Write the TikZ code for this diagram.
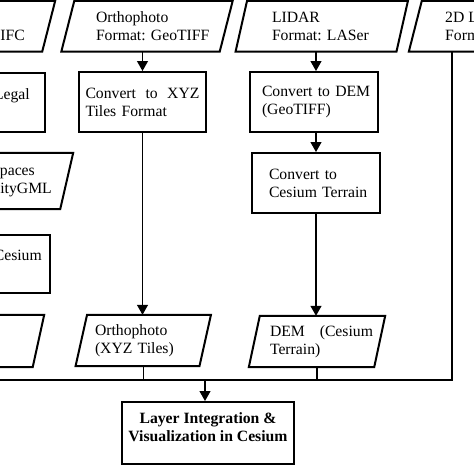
\documentclass[tikz,border=0pt]{standalone}
\usepackage{fontspec}
\setmainfont{Liberation Serif}
\usetikzlibrary{arrows.meta}
\frenchspacing
\begin{document}
\begin{tikzpicture}[x=1pt,y=-1pt,
  font=\fontsize{15.7}{18}\selectfont\frenchspacing,
  box/.style={draw, line width=2pt, rectangle, inner sep=0pt, align=left},
  pbox/.style={rectangle, inner sep=0pt, align=left},
  pline/.style={draw, line width=2pt, line join=miter},
  conn/.style={line width=1.2pt},
  arr/.style={conn, -{Triangle[length=10pt,width=11pt]}},
  frag/.style={inner sep=0pt, anchor=base east}]
\useasboundingbox (0,0) rectangle (474,474);
\clip (0,0) rectangle (474,474);
\fill[white] (0,0) rectangle (474,474);

% rectangles
\node[box, minimum width=127, minimum height=60, text width=114] (cx) at (142.5,102) {\hbox to 114pt{Convert\hfill to\hfill XYZ}\\Tiles Format};
\node[box, minimum width=128, minimum height=60, text width=104] (dem) at (314,102) {\mbox{Convert to DEM}\\(GeoTIFF)};
\node[box, minimum width=128, minimum height=60, text width=94] (ct) at (316,183) {Convert to\\\mbox{Cesium Terrain}};
\node[box, minimum width=172, minimum height=62, align=center, font=\fontsize{15.7}{18}\selectfont\bfseries] (lic) at (208,433) {Layer Integration \&\\Visualization in Cesium\\[-5.2pt]\mbox{}};
\node[box, minimum width=145, minimum height=59] (legal) at (-27.5,102.5) {};
\node[box, minimum width=150, minimum height=58] (ces) at (-25.5,264) {};

% parallelograms (node areas)
\node[pbox, minimum width=158, minimum height=50.5, text width=102] (op) at (147,26.25) {Orthophoto\\\mbox{Format: GeoTIFF}};
\node[pbox, minimum width=160.5, minimum height=50.5, text width=99.5] (li) at (321.75,26.25) {LIDAR\\\mbox{Format: LASer}};
\node[pbox, minimum width=73, minimum height=50.5] (td) at (452,26.25) {};
\node[pbox, minimum width=148.5, minimum height=50.5] (ifc) at (-25.75,26.25) {};
\node[pbox, minimum width=166.5, minimum height=56] (cg) at (-16.75,181) {};
\node[pbox, minimum width=138.25, minimum height=52] (bl) at (-30.875,341) {};
\node[pbox, minimum width=123.5, minimum height=51, text width=96.5] (oxyz) at (143.25,340.5) {Orthophoto\\\mbox{(XYZ Tiles)}};
\node[pbox, minimum width=125, minimum height=51, text width=94] (demc) at (317,341.5) {\hbox to 103pt{DEM\hfill(Cesium}\\Terrain)};

\foreach \n/\s in {ifc/6.5,op/6.5,li/5.75,td/6.5,cg/6.5,bl/5.75,oxyz/5.75,demc/5.5}
  \draw[pline] ([xshift=\s]\n.north west) -- ([xshift=\s]\n.north east) -- ([xshift=-\s]\n.south east) -- ([xshift=-\s]\n.south west) -- cycle;

% visible fragments of clipped texts
\node[frag] (fifc) at (25,40) {IFC};
\node[frag] (flegal) at (30,99) {Legal};
\node[frag] (fcg1) at (35,175) {paces};
\node[frag] (fcg2) at (52,193) {ityGML};
\node[frag] (fces) at (42,260) {Cesium};
\node[frag, anchor=base west] (ftd1) at (445,22) {2D L};
\node[frag, anchor=base west] (ftd2) at (445,40) {Form};

% connectors
\draw[arr] (op.south -| cx.north) -- (cx.north);
\draw[arr] (cx.south) -- (cx.south |- oxyz.north);
\draw[arr] (li.south -| ct.north) -- (ct.north |- dem.north);
\draw[arr] (dem.south -| ct.north) -- (ct.north);
\draw[arr] (ct.south) -- (ct.south |- demc.north);
\coordinate (busL) at (-5,380);
\coordinate (bj) at (205,380);
\draw[conn] (oxyz.south) -- (oxyz.south |- bj);
\draw[conn] (demc.south) -- (demc.south |- bj);
\draw[conn] (td.south) |- (busL);
\draw[arr] (bj) -- (bj |- lic.north);
\end{tikzpicture}
\end{document}
